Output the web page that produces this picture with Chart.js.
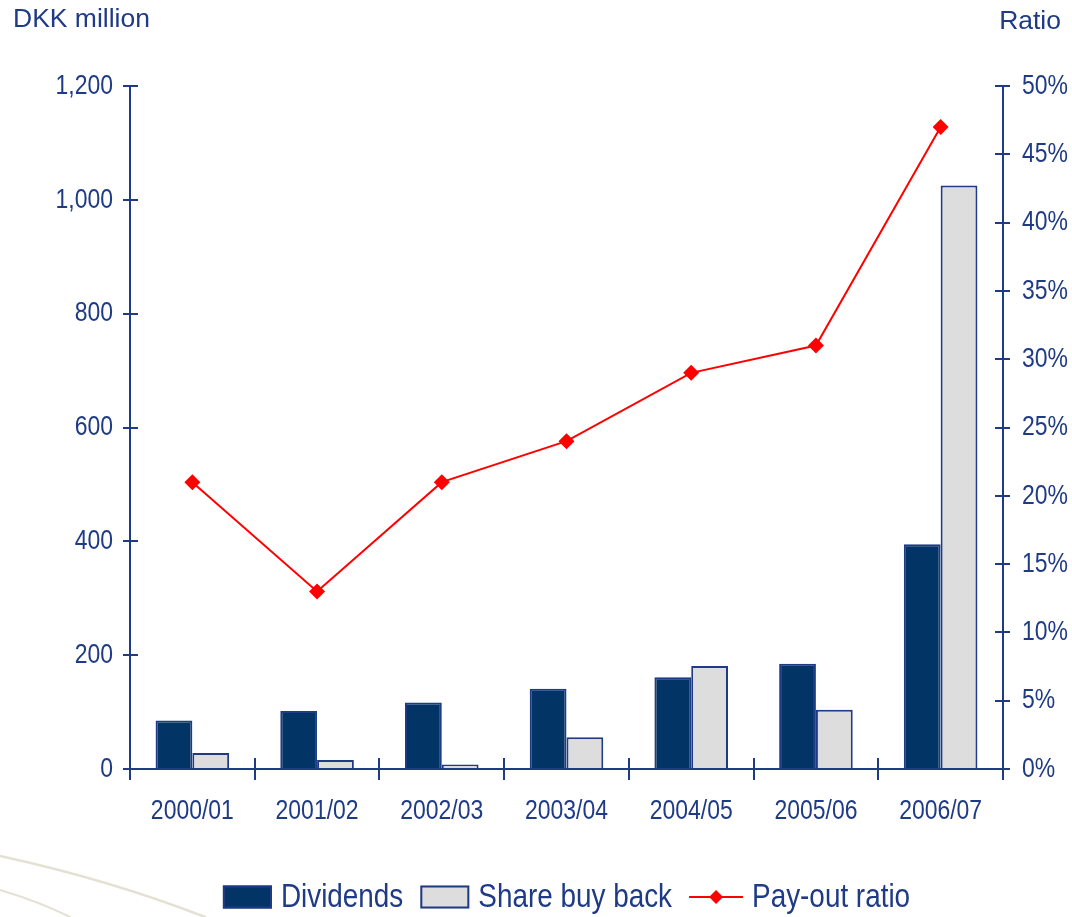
<!DOCTYPE html>
<html>
<head>
<meta charset="utf-8">
<style>
  html, body { margin: 0; padding: 0; background: #ffffff; }
  #wrap { width: 1072px; height: 917px; position: relative; }
</style>
<script src="https://cdn.jsdelivr.net/npm/chart.js@4.4.1/dist/chart.umd.min.js"></script>
</head>
<body>
<div id="wrap"><canvas id="chart" width="1072" height="917"></canvas></div>
<script>
// Fiscal years on the category axis
const categories = ['2000/01', '2001/02', '2002/03', '2003/04', '2004/05', '2005/06', '2006/07'];
// DKK million
const dividends = [85, 102, 117, 141, 161, 185, 395];
const shareBuyBack = [28, 16, 8, 56, 181, 104, 1025];
// Per cent
const payoutRatio = [21, 13, 21, 24, 29, 31, 47];

const leftTitle = 'DKK million';
const rightTitle = 'Ratio';

const NAVY = '#1f3b85';
const DARK = '#033466';
const GREY = '#dddddd';
const RED = '#ff0000';
const FAMILY = '"Liberation Sans", Arial, sans-serif';
const CONDENSE = 0.82;   // horizontal squeeze for the narrow label face

const fmtAmount = v => v.toLocaleString('en-US');
const fmtPct = v => v + '%';

function narrowText(ctx, text, x, y, align) {
  const w = ctx.measureText(text).width * CONDENSE;
  let left = x;
  if (align === 'right') left = x - w;
  else if (align === 'center') left = x - w / 2;
  ctx.save();
  ctx.translate(left, y);
  ctx.scale(CONDENSE, 1);
  ctx.textAlign = 'left';
  ctx.fillText(text, 0, 0);
  ctx.restore();
  return w;
}

// Faint decorative curves in the lower-left corner
const swooshPlugin = {
  id: 'swoosh',
  beforeDraw(chart) {
    const ctx = chart.ctx;
    ctx.save();
    ctx.lineCap = 'round';
    ctx.strokeStyle = 'rgba(205, 200, 175, 0.55)';
    ctx.lineWidth = 2.5;
    ctx.beginPath();
    ctx.moveTo(0, 856);
    ctx.quadraticCurveTo(110, 880, 205, 917);
    ctx.stroke();
    ctx.lineWidth = 2;
    ctx.beginPath();
    ctx.moveTo(0, 890);
    ctx.quadraticCurveTo(40, 902, 70, 917);
    ctx.stroke();
    ctx.restore();
  }
};

// Axis titles, tick labels, tick stubs inside the plot, and the legend row
const decorPlugin = {
  id: 'decor',
  afterDraw(chart) {
    const ctx = chart.ctx;
    const area = chart.chartArea;
    const y = chart.scales.y;
    const y1 = chart.scales.y1;
    const x = chart.scales.x;
    ctx.save();

    // axis titles
    ctx.fillStyle = NAVY;
    ctx.font = '26.5px ' + FAMILY;
    ctx.textBaseline = 'middle';
    ctx.textAlign = 'left';
    ctx.fillText(leftTitle, 13, 20);
    ctx.textAlign = 'right';
    ctx.fillText(rightTitle, 1061, 22);

    // tick labels
    ctx.font = '28px ' + FAMILY;
    ctx.textBaseline = 'middle';
    y.ticks.forEach(t => narrowText(ctx, fmtAmount(t.value), area.left - 17, y.getPixelForValue(t.value), 'right'));
    y1.ticks.forEach(t => narrowText(ctx, fmtPct(t.value), area.right + 19, y1.getPixelForValue(t.value), 'left'));
    categories.forEach((c, i) => narrowText(ctx, c, x.getPixelForValue(i), area.bottom + 42, 'center'));

    // inner halves of the tick marks
    ctx.strokeStyle = NAVY;
    ctx.lineWidth = 2;
    ctx.beginPath();
    y.ticks.forEach(t => {
      const py = Math.round(y.getPixelForValue(t.value));
      ctx.moveTo(area.left, py);
      ctx.lineTo(area.left + 8, py);
    });
    y1.ticks.forEach(t => {
      const py = Math.round(y1.getPixelForValue(t.value));
      ctx.moveTo(area.right, py);
      ctx.lineTo(area.right - 8, py);
    });
    for (let i = 0; i <= categories.length; i++) {
      const px = Math.round(x.getPixelForValue(i - 0.5));
      ctx.moveTo(px, area.bottom);
      ctx.lineTo(px, area.bottom - 11);
    }
    ctx.stroke();

    // legend
    const ds = chart.data.datasets;
    ctx.font = '34px ' + FAMILY;
    ctx.textBaseline = 'middle';
    const boxW = 49, boxH = 23, gapIn = 9, gapOut = 17, lineW = 54;
    const items = ds.map(d => ({ d, w: (d.type === 'line' ? lineW : boxW) + gapIn + ctx.measureText(d.label).width * CONDENSE }));
    const total = items.reduce((s, it) => s + it.w, 0) + gapOut * (items.length - 1);
    let cx = (area.left + area.right) / 2 - total / 2;
    const cy = 897;
    items.forEach(it => {
      const d = it.d;
      if (d.type === 'line') {
        ctx.strokeStyle = d.borderColor;
        ctx.lineWidth = 2;
        ctx.beginPath();
        ctx.moveTo(cx, cy);
        ctx.lineTo(cx + lineW, cy);
        ctx.stroke();
        ctx.fillStyle = d.pointBackgroundColor;
        ctx.beginPath();
        const mx = cx + lineW / 2, r = 7;
        ctx.moveTo(mx, cy - r);
        ctx.lineTo(mx + r, cy);
        ctx.lineTo(mx, cy + r);
        ctx.lineTo(mx - r, cy);
        ctx.closePath();
        ctx.fill();
        cx += lineW + gapIn;
      } else {
        ctx.fillStyle = d.backgroundColor;
        ctx.fillRect(cx, cy - boxH / 2, boxW, boxH);
        ctx.strokeStyle = d.borderColor;
        ctx.lineWidth = 2;
        ctx.strokeRect(cx + 1, cy - boxH / 2 + 1, boxW - 2, boxH - 2);
        cx += boxW + gapIn;
      }
      ctx.fillStyle = NAVY;
      cx += narrowText(ctx, d.label, cx, cy + 1, 'left') + gapOut;
    });

    ctx.restore();
  }
};

new Chart(document.getElementById('chart'), {
  data: {
    labels: categories,
    datasets: [
      {
        type: 'bar',
        label: 'Dividends',
        data: dividends,
        backgroundColor: DARK,
        borderColor: NAVY,
        borderWidth: 2,
        yAxisID: 'y',
        order: 2
      },
      {
        type: 'bar',
        label: 'Share buy back',
        data: shareBuyBack,
        backgroundColor: GREY,
        borderColor: NAVY,
        borderWidth: 2,
        yAxisID: 'y',
        order: 2
      },
      {
        type: 'line',
        label: 'Pay-out ratio',
        data: payoutRatio,
        borderColor: RED,
        borderWidth: 2,
        pointStyle: 'rectRot',
        pointRadius: 8,
        pointBackgroundColor: RED,
        pointBorderColor: RED,
        pointBorderWidth: 0,
        tension: 0,
        yAxisID: 'y1',
        order: 1
      }
    ]
  },
  options: {
    responsive: false,
    animation: false,
    devicePixelRatio: 1,
    layout: { padding: { top: 86, left: 0, right: 0, bottom: 0 } },
    datasets: {
      bar: { barPercentage: 1, categoryPercentage: 0.59 }
    },
    plugins: {
      legend: { display: false },
      title: { display: false },
      tooltip: { enabled: false }
    },
    scales: {
      x: {
        type: 'category',
        offset: true,
        grid: { display: true, drawOnChartArea: false, offset: true, tickLength: 11, color: NAVY, lineWidth: 2 },
        border: { display: true, color: NAVY, width: 2 },
        ticks: { display: false },
        afterFit(s) { s.height = 148; }
      },
      y: {
        position: 'left',
        min: 0,
        max: 1200,
        grid: { display: true, drawOnChartArea: false, tickLength: 7, color: NAVY, lineWidth: 2 },
        border: { display: true, color: NAVY, width: 2 },
        ticks: { display: false, stepSize: 200 },
        afterFit(s) { s.width = 130; }
      },
      y1: {
        position: 'right',
        min: 0,
        max: 50,
        grid: { display: true, drawOnChartArea: false, tickLength: 7, color: NAVY, lineWidth: 2 },
        border: { display: true, color: NAVY, width: 2 },
        ticks: { display: false, stepSize: 5 },
        afterFit(s) { s.width = 69; }
      }
    }
  },
  plugins: [swooshPlugin, decorPlugin]
});
</script>
</body>
</html>
